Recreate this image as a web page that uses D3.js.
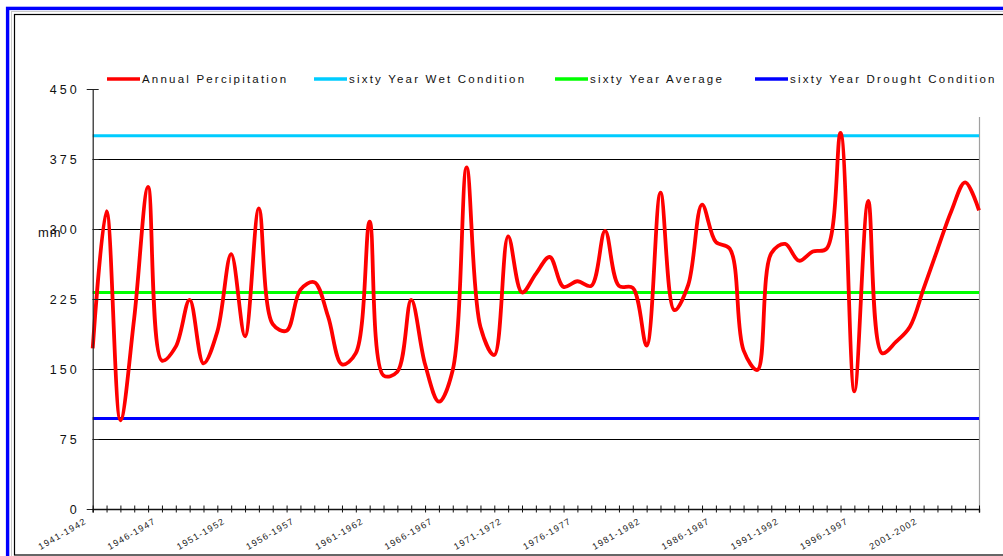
<!DOCTYPE html>
<html>
<head>
<meta charset="utf-8">
<script src="https://cdn.jsdelivr.net/npm/d3@7"></script>
<style>
  html, body { margin: 0; padding: 0; background: #fff; }
  svg { display: block; font-family: "Liberation Sans", Arial, sans-serif; }
</style>
</head>
<body>
<svg id="chart" width="1003" height="556"></svg>
<script>
// Hydrological years shown on the category axis
const categories = [
  "1941-1942","1942-1943","1943-1944","1944-1945","1945-1946",
  "1946-1947","1947-1948","1948-1949","1949-1950","1950-1951",
  "1951-1952","1952-1953","1953-1954","1954-1955","1955-1956",
  "1956-1957","1957-1958","1958-1959","1959-1960","1960-1961",
  "1961-1962","1962-1963","1963-1964","1964-1965","1965-1966",
  "1966-1967","1967-1968","1968-1969","1969-1970","1970-1971",
  "1971-1972","1972-1973","1973-1974","1974-1975","1975-1976",
  "1976-1977","1977-1978","1978-1979","1979-1980","1980-1981",
  "1981-1982","1982-1983","1983-1984","1984-1985","1985-1986",
  "1986-1987","1987-1988","1988-1989","1989-1990","1990-1991",
  "1991-1992","1992-1993","1993-1994","1994-1995","1995-1996",
  "1996-1997","1997-1998","1998-1999","1999-2000","2000-2001",
  "2001-2002","2002-2003","2003-2004","2004-2005","2005-2006"
];

// Annual precipitation (mm)
const annualPrecipitation = [
  172, 319, 95, 205, 345, 159, 174, 224, 156, 190,
  273, 185, 322, 198, 191, 235, 243, 206, 155, 167,
  308, 143, 147, 224, 155, 115, 149, 366, 195, 165,
  292, 232, 252, 270, 238, 244, 239, 298, 239, 237,
  175, 339, 213, 240, 326, 286, 279, 170, 149, 274,
  284, 266, 276, 279, 403, 126, 330, 167, 179, 195,
  236, 278, 319, 350, 320
];

// Sixty-year reference levels (mm)
const wetCondition = 400;
const longTermAverage = 232;
const droughtCondition = 97;

// Value axis ticks and the x labels that are printed
const yTicks = [0, 75, 150, 225, 300, 375, 450];
const gridTicks = [75, 150, 225, 300, 375];
const labelledCategories = categories.filter((d, i) => i % 5 === 0);

const legendItems = [
  { label: "Annual Percipitation", color: "#ff0000", x: 107 },
  { label: "sixty Year Wet Condition", color: "#00ccff", x: 314 },
  { label: "sixty Year Average", color: "#00ff00", x: 555 },
  { label: "sixty Year Drought Condition", color: "#0000ff", x: 755 }
];

const referenceLines = [
  { value: wetCondition, color: "#00ccff" },
  { value: longTermAverage, color: "#00ff00" },
  { value: droughtCondition, color: "#0000ff" }
];

const svg = d3.select("#chart");

// Frames around the chart
svg.append("rect").attr("x", 7.6).attr("y", 8.4).attr("width", 1020).attr("height", 560)
  .attr("fill", "none").attr("stroke", "#0000ff").attr("stroke-width", 3.4);
svg.append("rect").attr("x", 11.5).attr("y", 11.5).attr("width", 1020).attr("height", 560)
  .attr("fill", "none").attr("stroke", "#c8c8c8").attr("stroke-width", 1);
svg.append("rect").attr("x", 14.5).attr("y", 14.5).attr("width", 1020).attr("height", 540.5)
  .attr("fill", "none").attr("stroke", "#000").attr("stroke-width", 1.2);

const plotLeft = 92.7, plotRight = 979, plotTop = 89, plotBottom = 509;

const x = d3.scalePoint().domain(categories).range([plotLeft, plotRight]);
const y = d3.scaleLinear().domain([0, 450]).range([plotBottom, plotTop]);

// Horizontal gridlines
svg.append("g").selectAll("line").data(gridTicks).join("line")
  .attr("x1", plotLeft).attr("x2", plotRight)
  .attr("y1", d => Math.round(y(d)) + 0.5).attr("y2", d => Math.round(y(d)) + 0.5)
  .attr("stroke", "#000").attr("stroke-width", 1);

// Right edge of the plot area
svg.append("line")
  .attr("x1", plotRight + 0.5).attr("x2", plotRight + 0.5)
  .attr("y1", 117).attr("y2", plotBottom)
  .attr("stroke", "#a0a0a0").attr("stroke-width", 1.2);

// Reference levels
svg.append("g").selectAll("line").data(referenceLines).join("line")
  .attr("x1", plotLeft).attr("x2", plotRight)
  .attr("y1", d => y(d.value)).attr("y2", d => y(d.value))
  .attr("stroke", d => d.color).attr("stroke-width", 3);

// Precipitation series, smoothed (centripetal spline keeps overshoot small)
const line = d3.line()
  .x((d, i) => x(categories[i]))
  .y(d => y(d))
  .curve(d3.curveCatmullRom.alpha(0.5));

svg.append("path").datum(annualPrecipitation)
  .attr("d", line)
  .attr("fill", "none")
  .attr("stroke", "#ff0000")
  .attr("stroke-width", 3.8)
  .attr("stroke-linejoin", "round");

// Value axis
const yAxis = svg.append("g")
  .attr("transform", `translate(${plotLeft},0)`)
  .call(d3.axisLeft(y).tickValues(yTicks).tickSize(6).tickPadding(12));
yAxis.select(".domain").attr("stroke", "#222").attr("stroke-width", 1.2);
yAxis.selectAll(".tick line").attr("x2", 6).attr("stroke", "#222");
yAxis.selectAll(".tick text")
  .attr("font-size", 12.5).attr("letter-spacing", "3px").attr("fill", "#111")
  .attr("font-family", "'Liberation Sans', Arial, sans-serif")
  .attr("dx", 5).attr("dy", "0.36em");

// Category axis
const xAxis = svg.append("g")
  .attr("transform", `translate(0,${plotBottom})`)
  .call(d3.axisBottom(x).tickValues(categories).tickSize(3.5)
    .tickFormat(d => labelledCategories.includes(d) ? d : ""));
xAxis.select(".domain").attr("stroke", "#111").attr("stroke-width", 1.4);
xAxis.selectAll(".tick line").attr("y1", -3.5).attr("stroke", "#111").attr("stroke-width", 1);
xAxis.selectAll(".tick text")
  .attr("font-size", 9).attr("letter-spacing", "1.2px").attr("fill", "#222")
  .attr("font-family", "'Liberation Sans', Arial, sans-serif")
  .attr("text-anchor", "end")
  .attr("y", 0).attr("dy", 0)
  .attr("transform", "translate(-6,14) rotate(-30)");

// Axis title
svg.append("text")
  .attr("x", 38).attr("y", 237)
  .attr("font-size", 13).attr("letter-spacing", "1px").attr("fill", "#111")
  .text("mm");

// Legend
const legend = svg.append("g").selectAll("g").data(legendItems).join("g")
  .attr("transform", d => `translate(${d.x},79)`);
legend.append("line")
  .attr("x1", 0).attr("x2", 33).attr("y1", 0).attr("y2", 0)
  .attr("stroke", d => d.color).attr("stroke-width", 3.4);
legend.append("text")
  .attr("x", 35).attr("y", 4.3)
  .attr("font-size", 11.5).attr("letter-spacing", "2.2px").attr("fill", "#111")
  .text(d => d.label);
</script>
</body>
</html>
